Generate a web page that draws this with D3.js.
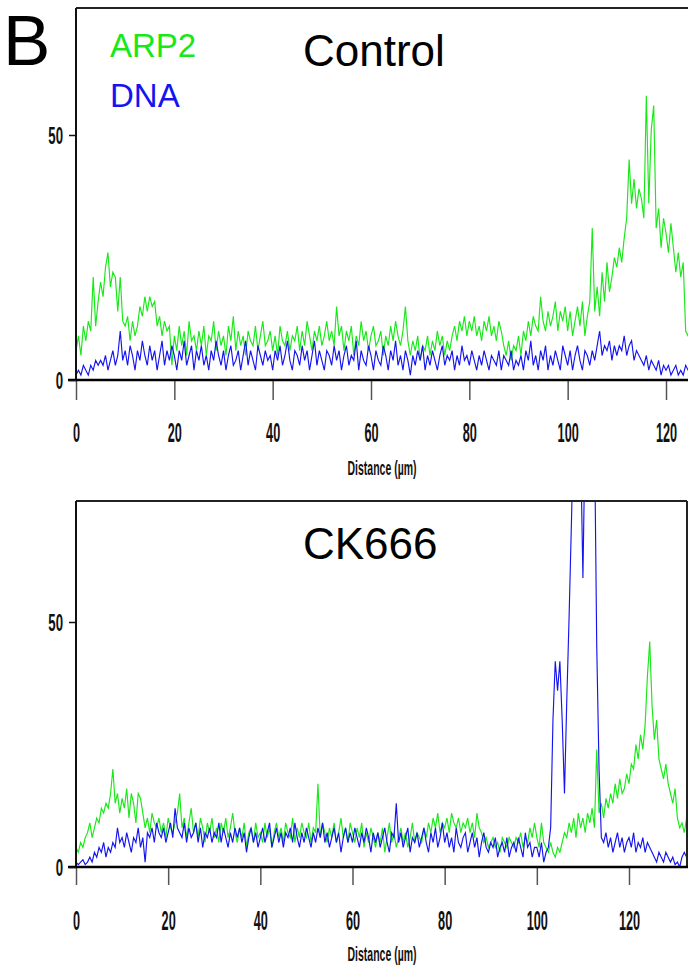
<!DOCTYPE html>
<html>
<head>
<meta charset="utf-8">
<script src="https://cdn.jsdelivr.net/npm/d3@7/dist/d3.min.js"></script>
<style>
  html, body { margin: 0; padding: 0; background: #fff; }
  svg { display: block; }
</style>
</head>
<body>
<svg id="chart" width="688" height="972"></svg>
<script>
// ---------------- DATA ----------------
const step = 0.5; // µm between samples
const xTicks = [0, 20, 40, 60, 80, 100, 120];
const yTicks = [0, 50];
const seriesNames = ["ARP2", "DNA"];
const panelTitles = ["Control", "CK666"];

const controlARP2 = [
  6, 9, 5, 11, 8, 12, 10, 21, 11, 16,
  20, 17, 23, 26, 19, 22, 21, 14, 21, 12,
  11, 13, 8, 12, 9, 11, 15, 13, 17, 14,
  17, 15, 16, 11, 13, 9, 12, 10, 11, 3,
  9, 6, 11, 7, 10, 5, 12, 8, 9, 6,
  10, 7, 11, 5, 9, 8, 12, 6, 10, 7,
  9, 5, 11, 8, 13, 6, 10, 7, 9, 5,
  10, 8, 7, 11, 6, 9, 12, 7, 8, 10,
  6, 9, 5, 11, 8, 7, 10, 6, 9, 8,
  11, 6, 10, 7, 12, 9, 6, 10, 8, 11,
  7, 9, 12, 8, 10, 7, 15, 9, 11, 6,
  10, 8, 11, 5, 9, 7, 12, 8, 10, 6,
  9, 11, 7, 8, 10, 5, 9, 7, 11, 8,
  12, 9, 7, 10, 15, 8, 5, 8, 6, 9,
  4, 7, 6, 9, 5, 8, 6, 10, 7, 9,
  5, 8, 6, 9, 11, 8, 12, 10, 13, 9,
  12, 10, 13, 9, 11, 8, 12, 10, 13, 9,
  11, 8, 12, 10, 7, 5, 8, 4, 7, 6,
  9, 5, 10, 8, 12, 9, 13, 11, 10, 17,
  12, 10, 14, 11, 13, 16, 10, 14, 12, 15,
  10, 14, 9, 12, 15, 11, 16, 9, 13, 16,
  31, 14, 19, 13, 22, 16, 24, 18, 21, 25,
  23, 27, 24, 29, 33, 45, 36, 41, 35, 39,
  37, 33, 58, 36, 51, 56, 31, 35, 27, 33,
  30, 26, 32, 27, 22, 26, 21, 24, 10, 9,
  8
];
const controlDNA = [
  1, 2, 1, 3, 2, 1, 3, 2, 4, 3,
  4, 3, 5, 2, 4, 6, 3, 5, 10, 4,
  6, 3, 7, 5, 2, 6, 4, 8, 5, 3,
  7, 4, 6, 2, 5, 8, 3, 6, 4, 7,
  5, 2, 6, 4, 8, 3, 5, 7, 2, 6,
  4, 7, 3, 5, 2, 6, 4, 8, 5, 3,
  6, 2, 5, 7, 3, 4, 6, 2, 5, 8,
  3, 6, 4, 2, 7, 5, 3, 6, 4, 5,
  2, 6, 4, 7, 3, 5, 8, 4, 2, 6,
  5, 3, 7, 4, 6, 2, 5, 8, 3, 6,
  4, 2, 6, 5, 3, 7, 4, 6, 2, 5,
  7, 3, 5, 4, 8, 2, 6, 4, 3, 7,
  5, 2, 6, 4, 3, 7, 5, 2, 6, 4,
  8, 3, 5, 2, 6, 4, 1, 5, 3, 6,
  4, 7, 2, 5, 3, 6, 4, 2, 5, 7,
  3, 5, 4, 6, 2, 5, 3, 7, 4, 5,
  3, 6, 4, 2, 5, 3, 6, 4, 2, 5,
  4, 3, 6, 2, 5, 4, 3, 6, 2, 4,
  3, 5, 2, 6, 4, 8, 3, 5, 2, 6,
  4, 7, 2, 5, 3, 6, 4, 2, 7, 5,
  3, 6, 2, 5, 7, 4, 2, 6, 5, 3,
  6, 4, 7, 10, 5, 7, 6, 8, 4, 7,
  5, 7, 6, 9, 5, 7, 8, 4, 6, 5,
  4, 3, 5, 2, 4, 3, 2, 4, 1, 3,
  2, 3, 1, 2, 3, 1, 2, 1, 3, 2,
  2
];
const ck666ARP2 = [
  4, 3, 5, 4, 6, 7, 9, 6, 8, 10,
  9, 12, 11, 13, 12, 15, 20, 13, 15, 11,
  14, 12, 16, 10, 15, 13, 9, 15, 14, 11,
  8, 10, 7, 11, 9, 8, 10, 7, 9, 6,
  10, 8, 7, 9, 11, 15, 8, 10, 6, 9,
  12, 7, 9, 6, 10, 8, 5, 9, 7, 10,
  6, 8, 5, 9, 7, 10, 6, 8, 11, 7,
  5, 8, 6, 9, 4, 7, 8, 5, 9, 6,
  7, 5, 9, 6, 8, 4, 7, 9, 6, 8,
  5, 9, 7, 6, 10, 5, 8, 6, 9, 7,
  6, 9, 5, 8, 7, 17, 6, 9, 7, 5,
  8, 6, 9, 5, 7, 10, 6, 8, 5, 9,
  7, 5, 8, 6, 9, 4, 7, 5, 8, 6,
  4, 7, 5, 8, 3, 6, 9, 5, 7, 4,
  6, 8, 5, 7, 4, 6, 9, 5, 7, 6,
  5, 8, 6, 9, 7, 10, 8, 11, 7, 9,
  8, 10, 7, 11, 9, 8, 10, 7, 9, 8,
  10, 7, 9, 6, 11, 8, 7, 5, 6, 4,
  5, 6, 4, 5, 3, 6, 5, 4, 6, 5,
  4, 6, 5, 7, 4, 6, 5, 8, 6, 9,
  6, 4, 9, 5, 4, 3, 5, 3, 2, 4,
  3, 5, 7, 6, 9, 7, 10, 6, 11, 8,
  10, 7, 11, 9, 12, 8, 24, 11, 13, 10,
  14, 12, 15, 13, 17, 14, 18, 15, 16, 19,
  17, 21, 20, 25, 22, 27, 24, 29, 39, 46,
  33, 26, 30, 22, 20, 18, 21, 17, 15, 13,
  16, 10, 8, 9, 7, 10, 8
];
const ck666DNA = [
  1, 0.5, 1, 1.5, 0.5, 1, 2, 1, 3, 2,
  4, 3, 5, 2, 4, 3, 5, 4, 8, 5,
  6, 4, 7, 5, 3, 6, 5, 8, 4, 6,
  1, 7, 6, 8, 5, 9, 7, 6, 8, 5,
  7, 9, 6, 12, 8, 7, 6, 9, 5, 8,
  6, 7, 9, 5, 8, 4, 7, 6, 8, 5,
  7, 6, 9, 5, 8, 6, 4, 7, 5, 8,
  6, 8, 5, 7, 3, 6, 8, 5, 7, 4,
  6, 8, 5, 7, 9, 4, 6, 8, 5, 7,
  4, 7, 6, 8, 5, 9, 6, 4, 7, 5,
  8, 6, 4, 7, 5, 8, 6, 9, 5, 7,
  4, 6, 8, 5, 7, 3, 6, 8, 5, 7,
  5, 8, 6, 4, 7, 5, 8, 6, 3, 7,
  5, 7, 4, 6, 8, 5, 3, 7, 6, 13,
  5, 7, 4, 6, 8, 3, 6, 5, 7, 4,
  6, 8, 5, 3, 7, 5, 8, 4, 6, 9,
  5, 7, 4, 6, 3, 8, 5, 4, 6, 7,
  3, 5, 7, 4, 6, 2, 5, 7, 4, 3,
  5, 4, 6, 2, 4, 5, 3, 6, 2, 4,
  5, 3, 6, 4, 2, 7, 4, 5, 2, 4,
  4, 2, 5, 1, 3, 4, 8, 30, 42, 36,
  42, 30, 15, 34, 51, 70, 90, 88, 92, 86,
  59, 90, 88, 92, 86, 90, 45, 20, 6, 5,
  7, 4, 6, 3, 5, 7, 4, 6, 3, 5,
  6, 4, 7, 3, 5, 4, 6, 3, 5, 4,
  3, 2, 1, 3, 2, 1, 3, 2, 1, 2,
  0.5, 1, 0, 2, 3, 2, 3
];

// ---------------- DRAW ----------------
const svg = d3.select("#chart");
const GREEN = "#18e818", BLUE = "#1414f0";
const tickFont = "'Liberation Sans', Arial, sans-serif";

const panels = [
  { title: panelTitles[0], arp: controlARP2, dna: controlDNA,
    left: 76, right: 688, top: 8, bottom: 380, x120: 666, y50: 135,
    tickLen: 20, tickLblOff: 62, xLblY: 475, titleX: 303, titleY: 66, rightBorder: false, legend: true },
  { title: panelTitles[1], arp: ck666ARP2, dna: ck666DNA,
    left: 76, right: 687, top: 501, bottom: 867, x120: 629, y50: 622,
    tickLen: 18, tickLblOff: 63, xLblY: 961, titleX: 303, titleY: 559, rightBorder: true, legend: false }
];

panels.forEach((p, pi) => {
  const x = d3.scaleLinear().domain([0, 120]).range([p.left, p.x120]);
  const y = d3.scaleLinear().domain([0, 50]).range([p.bottom, p.y50]);
  const g = svg.append("g");

  // clip
  const clipId = "clip" + pi;
  svg.append("defs").append("clipPath").attr("id", clipId)
    .append("rect").attr("x", p.left).attr("y", p.top)
    .attr("width", p.right - p.left).attr("height", p.bottom - p.top);

  const line = d3.line().x((d, i) => x(i * step)).y(d => y(d)).curve(d3.curveLinear);
  const lines = g.append("g").attr("clip-path", `url(#${clipId})`);
  lines.append("path").datum(p.arp).attr("d", line)
    .attr("fill", "none").attr("stroke", GREEN).attr("stroke-width", 1.15);
  lines.append("path").datum(p.dna).attr("d", line)
    .attr("fill", "none").attr("stroke", BLUE).attr("stroke-width", 1.15);

  // frame
  g.append("line").attr("x1", p.left).attr("x2", p.right).attr("y1", p.top).attr("y2", p.top)
    .attr("stroke", "#222").attr("stroke-width", 2);
  g.append("line").attr("x1", p.left).attr("x2", p.left).attr("y1", p.top).attr("y2", p.bottom)
    .attr("stroke", "#111").attr("stroke-width", 2);
  if (p.rightBorder) {
    g.append("line").attr("x1", p.right).attr("x2", p.right).attr("y1", p.top).attr("y2", p.bottom)
      .attr("stroke", "#222").attr("stroke-width", 2);
  }

  // x axis
  const xAxis = d3.axisBottom(x).tickValues(xTicks).tickSize(p.tickLen).tickFormat(d3.format("d"));
  const gx = g.append("g").attr("transform", `translate(0,${p.bottom})`).call(xAxis);
  gx.select(".domain").remove();
  gx.selectAll(".tick line").attr("stroke", "#555").attr("stroke-width", 1.5);
  gx.selectAll(".tick text")
    .attr("y", 0).attr("dy", null)
    .attr("transform", `translate(0,${p.tickLblOff}) scale(0.47,1)`)
    .attr("font-family", tickFont).attr("font-weight", "bold").attr("font-size", 27)
    .attr("fill", "#111");
  g.append("line").attr("x1", p.left - 8).attr("x2", p.right + 1).attr("y1", p.bottom).attr("y2", p.bottom)
    .attr("stroke", "#000").attr("stroke-width", 2.5);

  // y axis
  const yAxis = d3.axisLeft(y).tickValues(yTicks).tickSize(7).tickFormat(d3.format("d"));
  const gy = g.append("g").attr("transform", `translate(${p.left},0)`).call(yAxis);
  gy.select(".domain").remove();
  gy.selectAll(".tick line").attr("stroke", "#111").attr("stroke-width", 1.5);
  gy.selectAll(".tick text")
    .attr("x", 0).attr("dy", "0.36em")
    .attr("transform", "translate(-13,0) scale(0.55,1)")
    .attr("font-family", tickFont).attr("font-weight", "bold").attr("font-size", 24)
    .attr("fill", "#111");

  // x label
  g.append("text")
    .attr("transform", `translate(${(p.left + 688) / 2},${p.xLblY}) scale(0.5,1)`)
    .attr("text-anchor", "middle")
    .attr("font-family", tickFont).attr("font-weight", "bold").attr("font-size", 21)
    .attr("fill", "#111").text("Distance (µm)");

  // title
  g.append("text").attr("x", p.titleX).attr("y", p.titleY)
    .attr("font-family", "'Liberation Sans', Arial, sans-serif").attr("font-size", 44)
    .attr("fill", "#000").text(p.title);

  if (p.legend) {
    const colors = [GREEN, BLUE];
    seriesNames.forEach((s, i) => {
      g.append("text").attr("x", 110).attr("y", 57 + i * 50)
        .attr("font-family", "'Liberation Sans', Arial, sans-serif").attr("font-size", 33)
        .attr("fill", colors[i]).text(s);
    });
  }
});

// panel letter
svg.append("text").attr("x", 3).attr("y", 65)
  .attr("font-family", "'Liberation Sans', Arial, sans-serif").attr("font-size", 71)
  .attr("fill", "#000").text("B");
</script>
</body>
</html>
